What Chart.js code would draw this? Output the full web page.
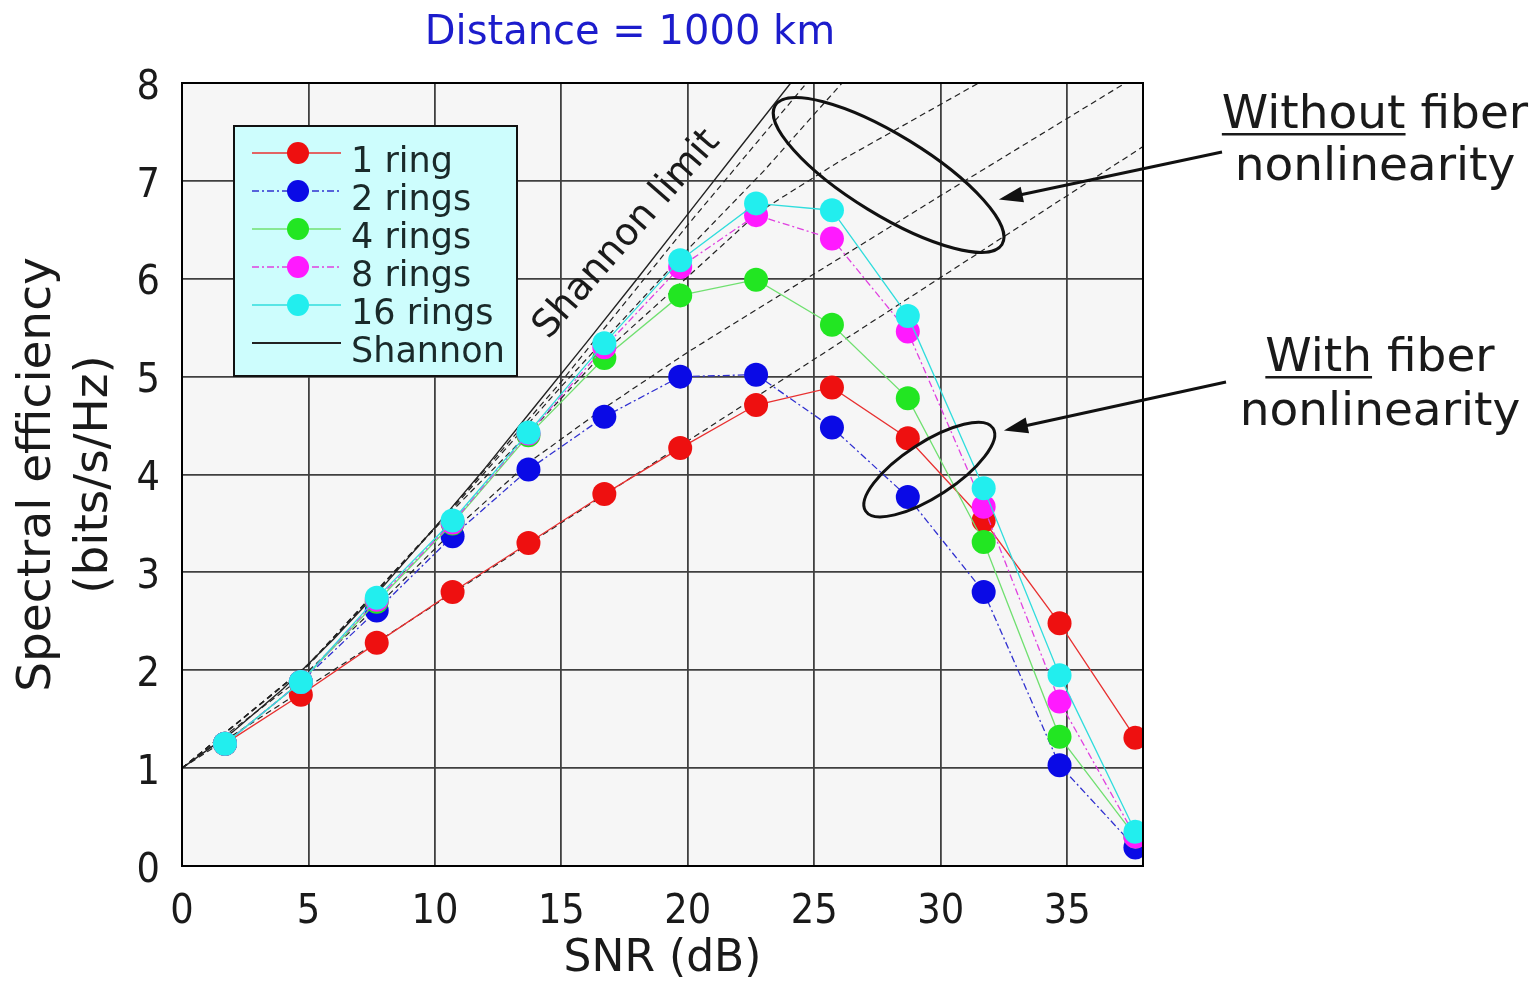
<!DOCTYPE html>
<html>
<head>
<meta charset="utf-8">
<title>Spectral efficiency vs SNR</title>
<script src="https://cdn.jsdelivr.net/npm/chart.js@4.4.0/dist/chart.umd.min.js"></script>
<style>
  html, body { margin: 0; padding: 0; background: #fff; }
  #wrap { width: 1539px; height: 987px; }
</style>
</head>
<body>
<div id="wrap"><canvas id="seChart" width="1539" height="987"></canvas></div>
<script>
// Valores: SNR (dB) x eficiência espectral (bits/s/Hz)
const snr = [1.7, 4.7, 7.7, 10.7, 13.7, 16.7, 19.7, 22.7, 25.7, 28.7, 31.7, 34.7, 37.7];
const ring1 = [1.25, 1.75, 2.28, 2.80, 3.30, 3.80, 4.27, 4.71, 4.89, 4.37, 3.53, 2.48, 1.31];
const ring2 = [1.25, 1.88, 2.61, 3.37, 4.05, 4.59, 5.00, 5.02, 4.48, 3.77, 2.80, 1.03, 0.19];
const ring4 = [1.25, 1.88, 2.70, 3.50, 4.40, 5.19, 5.83, 5.99, 5.53, 4.78, 3.31, 1.32, 0.30];
const ring8 = [1.25, 1.88, 2.72, 3.51, 4.42, 5.30, 6.12, 6.65, 6.41, 5.46, 3.67, 1.68, 0.30];
const ring16 = [1.25, 1.88, 2.74, 3.53, 4.43, 5.34, 6.19, 6.77, 6.70, 5.62, 3.86, 1.95, 0.35];

// Limite de Shannon
const shannonX = [0, 2, 4, 6, 8, 10, 12, 14, 16, 18, 20, 22, 24.07];
const shannonY = [1, 1.37, 1.81, 2.32, 2.87, 3.46, 4.07, 4.71, 5.35, 6.00, 6.66, 7.32, 8.0];

// Curvas tracejadas (sem não-linearidade da fibra)
const noNl1X = [0, 38];
const noNl1Y = [1, 7.35];
const noNl2X = [0, 4.7, 7.7, 10.7, 13.7, 16.7, 20, 25, 30, 37.3];
const noNl2Y = [1, 1.92, 2.65, 3.42, 4.12, 4.68, 5.25, 6.05, 6.85, 8.0];
const noNl4X = [0, 5, 10, 13.7, 16.7, 19.7, 22.8, 26, 31.5];
const noNl4Y = [1, 2.05, 3.45, 4.42, 5.25, 5.95, 6.68, 7.2, 8.0];
const noNl8X = [0, 5, 10, 15, 20, 23, 26.1];
const noNl8Y = [1, 2.06, 3.45, 4.9, 6.3, 7.1, 8.0];
const noNl16X = [0, 5, 10, 15, 20, 24.7];
const noNl16Y = [1, 2.06, 3.46, 4.95, 6.55, 8.0];

// Rótulos dos eixos
const xTicks = [0, 5, 10, 15, 20, 25, 30, 35];
const yTicks = [0, 1, 2, 3, 4, 5, 6, 7, 8];

const FONT = "'DejaVu Sans', sans-serif";
const FONT_NUM = "'DejaVu Sans Condensed', 'DejaVu Sans', sans-serif";

function pts(xs, ys) {
  return xs.map((x, i) => ({ x: x, y: ys[i] }));
}

function serie(label, ys, color, lineColor, dash, order) {
  return {
    label: label,
    data: pts(snr, ys),
    showLine: true,
    borderColor: lineColor,
    borderWidth: 1.3,
    borderDash: dash,
    backgroundColor: color,
    pointBackgroundColor: color,
    pointBorderColor: color,
    pointRadius: 12,
    pointBorderWidth: 0,
    order: order,
    legendMarker: true
  };
}

function tracejada(xs, ys) {
  return {
    label: "",
    data: pts(xs, ys),
    showLine: true,
    borderColor: "#222",
    borderWidth: 1.2,
    borderDash: [6, 4],
    pointRadius: 0,
    order: 20
  };
}

const datasets = [
  serie("1 ring", ring1, "#ee1010", "#e83030", [], 5),
  serie("2 rings", ring2, "#0a0ae6", "#3030d0", [7, 3, 2, 3], 4),
  serie("4 rings", ring4, "#22e622", "#70e070", [], 3),
  serie("8 rings", ring8, "#ff1aff", "#e040e0", [7, 3, 2, 3], 2),
  serie("16 rings", ring16, "#22eeee", "#30dddd", [], 1),
  {
    label: "Shannon",
    data: pts(shannonX, shannonY),
    showLine: true,
    borderColor: "#222",
    borderWidth: 1.4,
    pointRadius: 0,
    order: 10
  },
  tracejada(noNl1X, noNl1Y),
  tracejada(noNl2X, noNl2Y),
  tracejada(noNl4X, noNl4Y),
  tracejada(noNl8X, noNl8Y),
  tracejada(noNl16X, noNl16Y)
];

// Desenha fundo, moldura, legenda e anotações
const decoracao = {
  id: "decoracao",
  beforeDraw(chart) {
    const { ctx, chartArea: a } = chart;
    ctx.save();
    ctx.fillStyle = "#f6f6f6";
    ctx.fillRect(a.left, a.top, a.right - a.left, a.bottom - a.top);
    ctx.restore();
  },
  afterDraw(chart) {
    const { ctx, chartArea: a } = chart;
    const xs = chart.scales.x;
    const ys = chart.scales.y;
    ctx.save();

    // moldura
    ctx.strokeStyle = "#000";
    ctx.lineWidth = 2;
    ctx.strokeRect(a.left, a.top, a.right - a.left, a.bottom - a.top);

    // elipses
    ctx.lineWidth = 3;
    ctx.strokeStyle = "#111";
    ctx.beginPath();
    ctx.ellipse(xs.getPixelForValue(27.94), ys.getPixelForValue(7.06), 133, 40, 31.5 * Math.PI / 180, 0, Math.PI * 2);
    ctx.stroke();
    ctx.beginPath();
    ctx.ellipse(xs.getPixelForValue(29.55), ys.getPixelForValue(4.05), 76, 27, -33 * Math.PI / 180, 0, Math.PI * 2);
    ctx.stroke();

    // setas
    const setas = [
      [1222, 152, xs.getPixelForValue(32.3), ys.getPixelForValue(6.81)],
      [1226, 382, xs.getPixelForValue(32.5), ys.getPixelForValue(4.45)]
    ];
    setas.forEach(([x0, y0, x1, y1]) => {
      const ang = Math.atan2(y1 - y0, x1 - x0);
      ctx.beginPath();
      ctx.moveTo(x0, y0);
      ctx.lineTo(x1 - 14 * Math.cos(ang), y1 - 14 * Math.sin(ang));
      ctx.stroke();
      ctx.beginPath();
      ctx.moveTo(x1, y1);
      ctx.lineTo(x1 - 24 * Math.cos(ang) + 8 * Math.sin(ang), y1 - 24 * Math.sin(ang) - 8 * Math.cos(ang));
      ctx.lineTo(x1 - 24 * Math.cos(ang) - 8 * Math.sin(ang), y1 - 24 * Math.sin(ang) + 8 * Math.cos(ang));
      ctx.closePath();
      ctx.fillStyle = "#111";
      ctx.fill();
    });

    // texto "Shannon limit"
    ctx.save();
    ctx.translate(xs.getPixelForValue(17.6), ys.getPixelForValue(6.45));
    ctx.rotate(-49 * Math.PI / 180);
    ctx.font = "38px " + FONT;
    ctx.fillStyle = "#1a1a1a";
    ctx.textAlign = "center";
    ctx.textBaseline = "middle";
    ctx.fillText("Shannon limit", 0, 0);
    ctx.restore();

    // legenda
    const lx = 234, ly = 126, lw = 283, lh = 250;
    ctx.fillStyle = "#cdfdfd";
    ctx.fillRect(lx, ly, lw, lh);
    ctx.lineWidth = 2;
    ctx.strokeStyle = "#111";
    ctx.strokeRect(lx, ly, lw, lh);
    const itens = datasets.filter(d => d.label !== "");
    itens.forEach((d, i) => {
      const y = 153 + i * 38;
      ctx.save();
      ctx.strokeStyle = d.borderColor;
      ctx.lineWidth = d.legendMarker ? 1.5 : 2;
      ctx.setLineDash(d.borderDash || []);
      ctx.beginPath();
      ctx.moveTo(252, y);
      ctx.lineTo(341, y);
      ctx.stroke();
      ctx.restore();
      if (d.legendMarker) {
        ctx.beginPath();
        ctx.arc(298, y, 11, 0, Math.PI * 2);
        ctx.fillStyle = d.pointBackgroundColor;
        ctx.fill();
      }
      ctx.font = "35px " + FONT;
      ctx.fillStyle = "#1a2a2a";
      ctx.textAlign = "left";
      ctx.textBaseline = "alphabetic";
      ctx.fillText(d.label, 351, y + 19);
    });

    // título
    ctx.font = "40px " + FONT;
    ctx.fillStyle = "#1c1ccc";
    ctx.textAlign = "center";
    ctx.textBaseline = "middle";
    ctx.fillText("Distance = 1000 km", 630, 34);

    // textos à direita
    ctx.font = "47px " + FONT;
    ctx.fillStyle = "#1a1a1a";
    ctx.textBaseline = "alphabetic";
    const blocos = [
      { cx: 1375, y1: 128, y2: 180, sub: "Without", rest: " fiber" },
      { cx: 1380, y1: 371, y2: 425, sub: "With", rest: " fiber" }
    ];
    blocos.forEach(b => {
      const wSub = ctx.measureText(b.sub).width;
      const wAll = ctx.measureText(b.sub + b.rest).width;
      const x0 = b.cx - wAll / 2;
      ctx.textAlign = "left";
      ctx.fillText(b.sub + b.rest, x0, b.y1);
      ctx.fillRect(x0, b.y1 + 5, wSub, 2.5);
      ctx.textAlign = "center";
      ctx.fillText("nonlinearity", b.cx, b.y2);
    });

    ctx.restore();
  }
};

const ctx = document.getElementById("seChart").getContext("2d");
const seChart = new Chart(ctx, {
  type: "scatter",
  data: { datasets: datasets },
  options: {
    responsive: false,
    animation: false,
    layout: { padding: { top: 83, right: 396, left: 0, bottom: 0 } },
    plugins: {
      legend: { display: false },
      tooltip: { enabled: false },
      title: { display: false }
    },
    scales: {
      x: {
        type: "linear",
        min: 0,
        max: 38,
        afterBuildTicks: (s) => { s.ticks = xTicks.map(v => ({ value: v })); },
        afterFit: (s) => { s.height = 121; },
        grid: { color: "#404040", lineWidth: 1.8, drawTicks: false },
        border: { display: false },
        ticks: { padding: 22, color: "#1a1a1a", font: { size: 41, family: FONT_NUM }, maxRotation: 0 },
        title: {
          display: true,
          text: "SNR (dB)",
          color: "#1a1a1a",
          font: { size: 44, family: FONT, lineHeight: 1.2 },
          padding: { top: 0, bottom: 1 }
        }
      },
      y: {
        type: "linear",
        min: 0,
        max: 8,
        afterBuildTicks: (s) => { s.ticks = yTicks.map(v => ({ value: v })); },
        afterFit: (s) => { s.width = 182; },
        grid: { color: "#404040", lineWidth: 1.8, drawTicks: false },
        border: { display: false },
        ticks: { padding: 22, labelOffset: 5, color: "#1a1a1a", font: { size: 41, family: FONT_NUM } },
        title: {
          display: true,
          text: ["Spectral efficiency", "(bits/s/Hz)"],
          color: "#1a1a1a",
          font: { size: 47, family: FONT, lineHeight: 1.2 },
          padding: { top: 10, bottom: 0 }
        }
      }
    }
  },
  plugins: [decoracao]
});
</script>
</body>
</html>
